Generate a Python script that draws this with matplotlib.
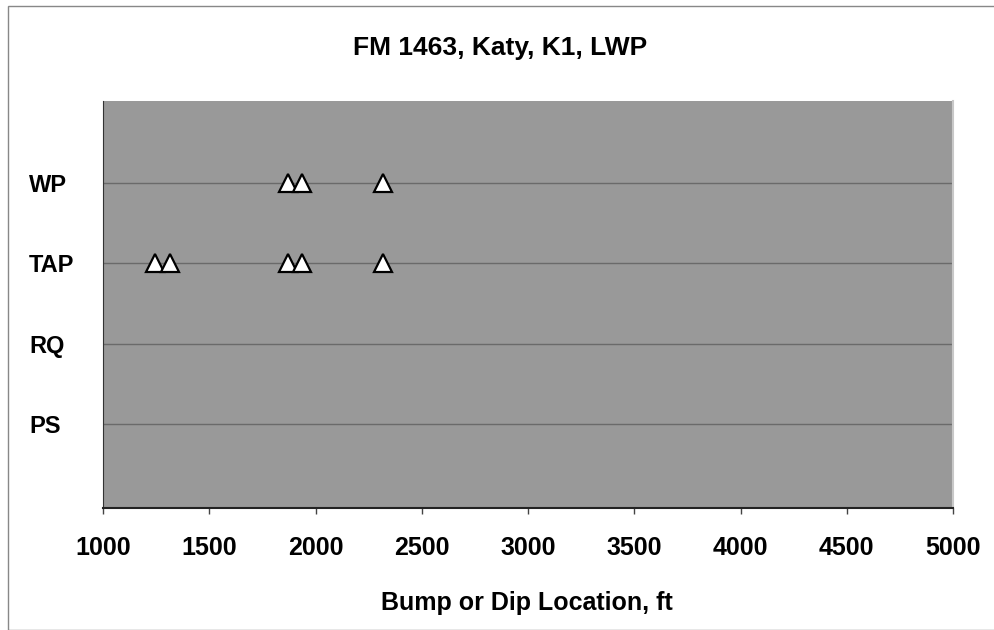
import matplotlib
matplotlib.use("Agg")
import matplotlib.pyplot as plt
from matplotlib.patches import Rectangle

title = "FM 1463, Katy, K1, LWP"
xlabel = "Bump or Dip Location, ft"
categories = ["PS", "RQ", "TAP", "WP"]
cat_pos = [1, 2, 3, 4]
wp_x = [1870, 1935, 2318]
tap_x = [1245, 1315, 1870, 1935, 2318]
xticks = [1000, 1500, 2000, 2500, 3000, 3500, 4000, 4500, 5000]

FONT = 'Liberation Sans'

fig = plt.figure(figsize=(9.94, 6.30), dpi=100)
fig.patch.set_facecolor('white')
ax = fig.add_axes([103/994, 1-508/630, (953-103)/994, (508-101)/630])
ax.set_facecolor('#999999')

for y in cat_pos:
    ax.axhline(y, color='#6a6a6a', lw=1.0, zorder=1)

ax.plot(wp_x, [4]*len(wp_x), linestyle='none', marker='^', ms=13, mfc='white',
        mec='black', mew=1.6, zorder=3)
ax.plot(tap_x, [3]*len(tap_x), linestyle='none', marker='^', ms=13, mfc='white',
        mec='black', mew=1.6, zorder=3)

ax.set_xlim(1000, 5000)
ax.set_ylim(-0.046, 5.022)
ax.set_xticks(xticks)
ax.set_xticklabels([str(v) for v in xticks], fontsize=18, fontweight='bold',
                   family=FONT)
ax.tick_params(axis='x', length=4.5, width=1, color='#444444', pad=16)
ax.set_yticks(cat_pos)
ax.set_yticklabels(categories, fontsize=17, fontweight='bold', family=FONT,
                   ha='left')
ax.tick_params(axis='y', length=0, pad=(103-29)*0.72)

ax.spines['top'].set_visible(False)
ax.spines['right'].set_color('#c8c8c8')
ax.spines['right'].set_linewidth(1.5)
ax.spines['left'].set_color('#333333')
ax.spines['bottom'].set_color('#222222')
ax.spines['bottom'].set_linewidth(1.5)

fig.text(500/994, 1-55/630, title, ha='center', va='baseline', fontsize=19,
         fontweight='bold', family=FONT)
fig.text(527/994, 1-610/630, xlabel, ha='center', va='baseline', fontsize=18,
         fontweight='bold', family=FONT)

fig.patches.append(Rectangle((8/994, 0.0), 1.2, 1-6/630, transform=fig.transFigure,
                             fill=False, edgecolor='#888888', lw=1.0))

fig.savefig('out.png', dpi=100)
